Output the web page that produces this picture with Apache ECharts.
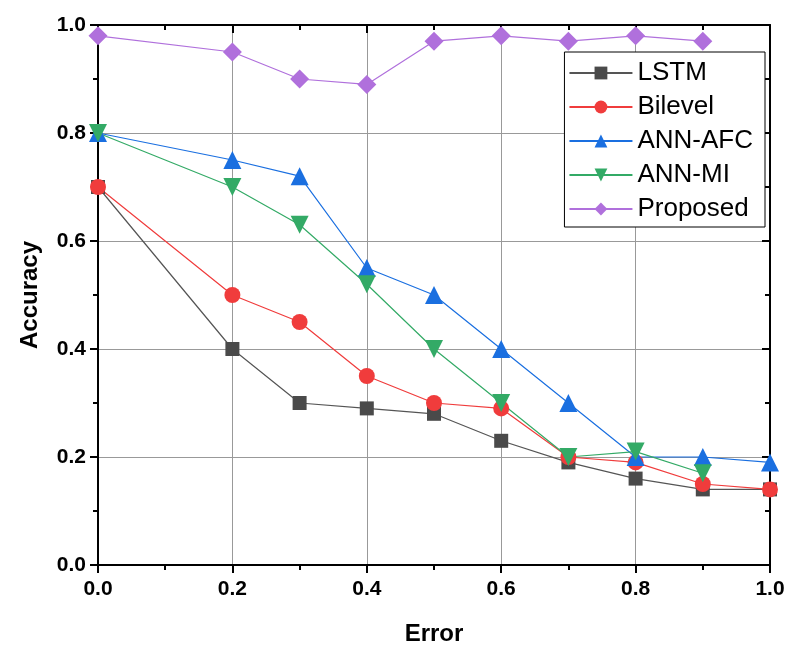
<!DOCTYPE html>
<html>
<head>
<meta charset="utf-8">
<script src="https://cdn.jsdelivr.net/npm/echarts@6/dist/echarts.min.js"></script>
<style>
  html, body { margin: 0; padding: 0; background: #fff; }
  #chart-container { width: 786px; height: 648px; }
</style>
</head>
<body>
<div id="chart-container"></div>
<script>
// valores
const errorX = [0, 0.2, 0.3, 0.4, 0.5, 0.6, 0.7, 0.8, 0.9, 1.0];
const lstm = [0.70, 0.40, 0.30, 0.29, 0.28, 0.23, 0.19, 0.16, 0.14, 0.14];
const bilevel = [0.70, 0.50, 0.45, 0.35, 0.30, 0.29, 0.20, 0.19, 0.15, 0.14];
const annAfc = [0.80, 0.75, 0.72, 0.55, 0.50, 0.40, 0.30, 0.20, 0.20, 0.19];
const annMi = [0.80, 0.70, 0.63, 0.52, 0.40, 0.30, 0.20, 0.21, 0.17];
const proposed = [0.98, 0.95, 0.90, 0.89, 0.97, 0.98, 0.97, 0.98, 0.97];

const FONT = '"Liberation Sans", Arial, sans-serif';

const pares = (ys) => ys.map((y, i) => [errorX[i], y]);

const serie = (name, ys, color, lineColor, symbol, size) => ({
    name: name,
    type: 'line',
    xAxisIndex: 0,
    yAxisIndex: 0,
    data: pares(ys),
    symbol: symbol,
    symbolSize: size,
    itemStyle: { color: color },
    lineStyle: { color: lineColor, width: 1.2 },
    emphasis: { disabled: true },
    animation: false
});

var myChart = echarts.init(document.getElementById('chart-container'));

const ejeBase = {
    min: 0, max: 1, interval: 0.2,
    axisLine: { show: true, onZero: false, lineStyle: { color: '#000', width: 2 } },
    minorTick: { show: true, splitNumber: 2, length: 5, lineStyle: { color: '#000', width: 2 } }
};

var option = {
    backgroundColor: '#fff',
    grid: { left: 98, right: 16, top: 25, bottom: 83, containLabel: false, outerBoundsMode: 'none' },
    legend: {
        right: 21, top: 52,
        orient: 'vertical',
        itemWidth: 63, itemHeight: 16, itemGap: 8,
        padding: [8, 12, 5, 4],
        borderColor: '#000', borderWidth: 1,
        backgroundColor: '#fff',
        textStyle: { fontFamily: FONT, fontSize: 26, color: '#000' },
        data: ['LSTM', 'Bilevel', 'ANN-AFC', 'ANN-MI', 'Proposed']
    },
    xAxis: [
        Object.assign({}, ejeBase, {
            type: 'value', position: 'bottom',
            name: 'Error', nameLocation: 'middle', nameGap: 57,
            nameTextStyle: { fontFamily: FONT, fontSize: 24, fontWeight: 'bold', color: '#000' },
            axisTick: { show: true, inside: false, length: 8, lineStyle: { color: '#000', width: 2 } },
            axisLabel: { fontFamily: FONT, fontSize: 21, fontWeight: 'bold', color: '#000', margin: 14,
                formatter: v => v.toFixed(1) },
            splitLine: { show: true, lineStyle: { color: '#999', width: 1 } }
        }),
        Object.assign({}, ejeBase, {
            type: 'value', position: 'top',
            axisTick: { show: true, inside: true, length: 8, lineStyle: { color: '#000', width: 2 } },
            axisLabel: { show: false },
            splitLine: { show: false }
        })
    ],
    yAxis: [
        Object.assign({}, ejeBase, {
            type: 'value', position: 'left',
            name: 'Accuracy', nameLocation: 'middle', nameGap: 56,
            nameTextStyle: { fontFamily: FONT, fontSize: 24, fontWeight: 'bold', color: '#000' },
            axisTick: { show: true, inside: false, length: 8, lineStyle: { color: '#000', width: 2 } },
            axisLabel: { fontFamily: FONT, fontSize: 21, fontWeight: 'bold', color: '#000', margin: 12,
                formatter: v => v.toFixed(1) },
            splitLine: { show: true, lineStyle: { color: '#999', width: 1 } }
        }),
        Object.assign({}, ejeBase, {
            type: 'value', position: 'right',
            axisTick: { show: true, inside: true, length: 8, lineStyle: { color: '#000', width: 2 } },
            axisLabel: { show: false },
            splitLine: { show: false }
        })
    ],
    series: [
        serie('LSTM', lstm, '#4a4a4a', '#555555', 'rect', 14),
        serie('Bilevel', bilevel, '#f03c3c', '#f03c3c', 'circle', 16),
        serie('ANN-AFC', annAfc, '#1a6fe0', '#1a6fe0', 'triangle', 18),
        serie('ANN-MI', annMi, '#33aa66', '#33aa66', 'path://M0,0 L10,0 L5,9 Z', 18),
        serie('Proposed', proposed, '#b070dc', '#b070dc', 'diamond', 19)
    ]
};

myChart.setOption(option);
</script>
</body>
</html>
